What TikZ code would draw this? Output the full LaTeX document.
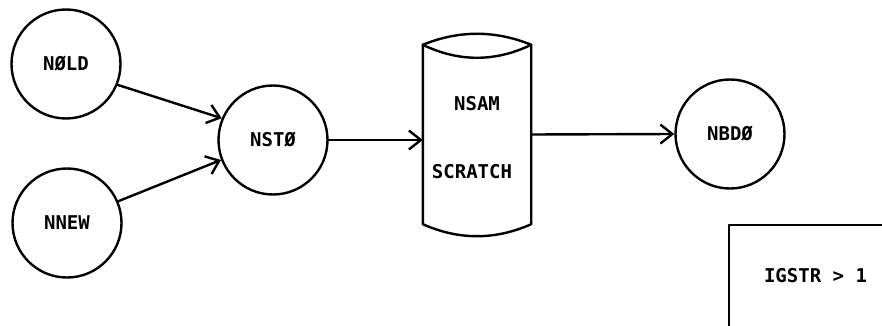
\documentclass[tikz,border=0pt]{standalone}
\usepackage{fontspec}
\setmonofont{DejaVu Sans Mono}
\usetikzlibrary{arrows.meta,calc}
\begin{document}
\begin{tikzpicture}[x=1pt,y=-1pt,
  line width=2.4pt, line cap=round, line join=round,
  lbl/.style={font=\ttfamily\bfseries\fontsize{19}{22}\selectfont, inner sep=0pt},
  fileset/.style={circle, draw, minimum size=109pt, inner sep=0pt,
    font=\ttfamily\bfseries\fontsize{19}{22}\selectfont},
  flow/.style={-{Straight Barb[length=12pt,width=19pt,line width=2.4pt]}}]
  \useasboundingbox (0,0) rectangle (882,326);

  % data sets
  \node[fileset] (old) at (66,64)  {NØLD};
  \node[fileset] (new) at (67,223) {NNEW};
  \node[fileset] (sto) at (273,140) {NSTØ};
  \node[fileset] (bdo) at (730,134) {NBDØ};

  % scratch drum: anchor frame plus outline
  \node[minimum width=106pt, minimum height=177pt, inner sep=0pt] (drum) at (477,134.5) {};
  \draw (drum.north west) .. controls +(36,-14.7) and +(-36,-14.7) .. (drum.north east);
  \draw (drum.north west) .. controls +(36,17.3) and +(-36,17.3) .. (drum.north east);
  \draw (drum.north west) -- (drum.south west)
        .. controls +(36,16) and +(-36,16) .. (drum.south east) -- (drum.north east);
  \node[lbl] (nsam) at (477,104) {NSAM};
  \node[lbl] (scr) at (472,172) {SCRATCH};

  % flows
  \draw[flow] (old.-22) -- (sto.157);
  \draw[flow] (new.23) -- (sto.201);
  \draw[flow] (sto.east) -- (drum.west |- sto.east);
  \draw[flow] (drum.east) -- (bdo.west);

  % condition box
  \coordinate (boxtr) at (882,225);
  \coordinate (boxbl) at (729,326);
  \draw (boxtr) -- (boxtr -| boxbl) -- (boxbl);
  \node[lbl] (cond) at (815.5,276) {IGSTR > 1};
\end{tikzpicture}
\end{document}
